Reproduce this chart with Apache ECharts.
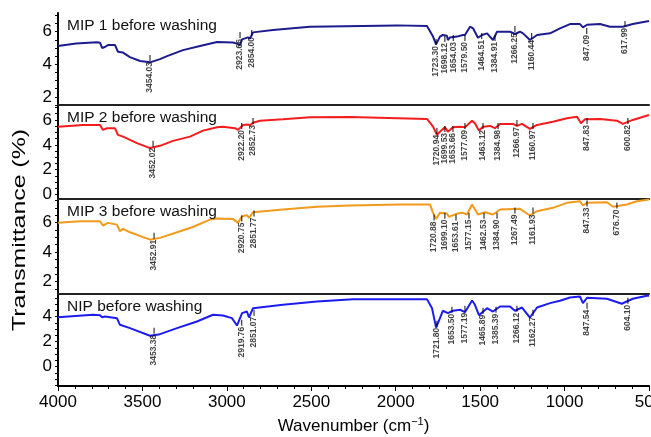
<!DOCTYPE html>
<html><head><meta charset="utf-8">
<script src="https://cdn.jsdelivr.net/npm/echarts@6/dist/echarts.min.js"></script>
<style>html,body{margin:0;padding:0;background:#fff}#c{width:651px;height:437px}</style>
</head><body><div id="c"></div>
<script>
// ---- data (wavenumber cm-1, transmittance %) ----
const panelTitles = ["MIP 1 before washing", "MIP 2 before washing", "MIP 3 before washing", "NIP before washing"];
const seriesColors = ["#1c1c8e", "#f41c1c", "#f29a1c", "#1c1cf0"];

const mip1 = [[4000,5.12],[3893,5.27],[3769,5.35],[3751,5.33],[3739,5.0],[3722,5.06],[3704,5.18],[3662,5.18],[3651,5.12],[3645,4.77],[3615,4.72],[3574,4.44],[3514,4.2],[3455,4.12],[3396,4.32],[3354,4.5],[3260,4.87],[3159,5.12],[3058,5.37],[2964,5.34],[2940,5.27],[2922,5.18],[2910,5.53],[2875,5.65],[2863,5.58],[2845,5.96],[2727,6.1],[2508,6.31],[1992,6.39],[1815,6.35],[1779,5.7],[1761,5.22],[1738,5.7],[1721,5.8],[1697,5.76],[1691,5.49],[1679,5.65],[1637,5.7],[1602,5.8],[1590,5.8],[1560,6.31],[1542,6.21],[1513,5.63],[1489,5.8],[1459,5.9],[1442,5.7],[1424,5.49],[1400,6.0],[1323,6.0],[1294,5.86],[1264,6.0],[1246,5.9],[1205,5.49],[1163,5.8],[1086,5.9],[1027,6.21],[968,6.47],[909,6.47],[891,6.27],[867,6.43],[790,6.47],[731,6.31],[655,6.31],[596,6.47],[500,6.66]];
const mip2 = [[4000,5.46],[3852,5.6],[3751,5.6],[3734,5.2],[3710,5.33],[3662,5.33],[3645,4.8],[3615,4.66],[3532,4.14],[3455,3.74],[3396,3.92],[3319,4.32],[3218,4.66],[3141,5.14],[3058,5.42],[3023,5.46],[2952,5.34],[2934,5.2],[2904,5.6],[2875,5.64],[2863,5.56],[2845,5.78],[2804,5.94],[2668,6.06],[2508,6.22],[2271,6.24],[1815,6.08],[1779,5.46],[1756,4.8],[1738,5.06],[1709,5.42],[1691,5.06],[1661,5.42],[1619,5.46],[1590,5.42],[1548,5.94],[1531,5.74],[1507,5.14],[1483,5.46],[1442,5.52],[1412,5.34],[1382,5.68],[1306,5.68],[1282,5.52],[1252,5.68],[1205,5.28],[1163,5.6],[1069,5.86],[986,6.14],[926,6.26],[903,5.74],[879,6.06],[790,6.08],[690,5.94],[655,5.68],[596,6.0],[500,6.4]];
const mip3 = [[4000,5.98],[3870,6.09],[3751,6.09],[3734,5.8],[3704,5.98],[3651,5.86],[3633,5.41],[3615,5.57],[3574,5.34],[3455,4.84],[3396,4.96],[3295,5.34],[3201,5.7],[3100,6.2],[3058,6.27],[2964,6.25],[2934,5.98],[2910,6.43],[2881,6.5],[2869,6.32],[2845,6.7],[2668,6.89],[2466,7.07],[2271,7.16],[1975,7.23],[1797,7.23],[1779,6.66],[1761,6.25],[1738,6.66],[1697,6.61],[1685,6.39],[1637,6.61],[1602,6.66],[1578,6.55],[1548,7.23],[1513,6.55],[1471,6.7],[1424,6.55],[1382,6.89],[1264,6.93],[1205,6.48],[1163,6.77],[1069,7.0],[986,7.34],[909,7.45],[891,7.16],[867,7.34],[749,7.38],[713,7.07],[631,7.23],[572,7.45],[500,7.57]];
const nip = [[4000,3.95],[3793,4.14],[3751,4.1],[3739,3.95],[3722,4.0],[3651,3.87],[3633,3.34],[3574,3.07],[3455,2.46],[3396,2.59],[3295,3.07],[3177,3.6],[3082,4.14],[3023,4.08],[2970,3.87],[2940,3.28],[2910,4.27],[2881,4.4],[2869,3.92],[2845,4.67],[2668,4.94],[2466,5.2],[2253,5.39],[1815,5.39],[1785,4.67],[1761,3.12],[1738,3.87],[1721,4.46],[1691,4.27],[1661,4.46],[1619,4.54],[1590,4.35],[1548,5.28],[1531,4.94],[1507,4.11],[1459,4.67],[1424,4.4],[1382,4.8],[1323,4.8],[1294,4.46],[1252,4.72],[1205,3.92],[1163,4.72],[1086,5.07],[1027,5.26],[968,5.52],[909,5.6],[891,5.07],[867,5.5],[749,5.42],[661,5.02],[596,5.42],[513,5.66],[500,5.66]];

// peak annotations: [label text, position wavenumber, position value]
const peaks1 = [["3454.03",3455,4.39],["2923.66",2922,5.8],["2854.00",2853,5.92],["1723.30",1761,5.37],["1698.12",1709,5.55],["1654.03",1659,5.62],["1579.50",1590,5.62],["1464.51",1491,5.74],["1384.91",1412,5.62],["1266.25",1294,6.17],["1160.44",1195,5.74],["847.09",869,6.05],["617.99",642,6.48]];
const peaks2 = [["3452.02",3437,4.08],["2922.20",2912,5.52],["2852.73",2845,5.92],["1720.94",1756,5.12],["1699.53",1709,5.28],["1653.66",1661,5.28],["1577.09",1590,5.52],["1463.12",1483,5.52],["1384.98",1394,5.52],["1266.97",1282,5.76],["1160.97",1187,5.52],["847.83",867,5.92],["600.82",625,5.92]];
const peaks3 = [["3452.91",3431,5.11],["2920.75",2912,6.27],["2851.77",2839,6.61],["1720.88",1773,6.34],["1699.10",1709,6.47],["1653.61",1643,6.34],["1577.15",1566,6.47],["1462.53",1477,6.47],["1384.90",1400,6.47],["1267.49",1294,6.82],["1161.93",1187,6.82],["847.33",867,7.29],["676.70",690,7.16]];
const peaks4 = [["3453.38",3431,2.86],["2919.76",2912,3.5],["2851.07",2839,4.3],["1721.80",1756,3.42],["1653.50",1667,4.54],["1577.19",1590,4.62],["1465.89",1483,4.46],["1385.39",1406,4.54],["1266.12",1282,4.62],["1162.27",1187,4.3],["847.54",867,4.86],["604.10",625,5.26]];

const xMin = 500, xMax = 4000, xStep = 500;
const yRanges = [[1.5,7.15],[-0.35,7.2],[1.15,7.6],[-1.55,5.8]];
const yTickLabels = [[2,4,6],[0,2,4,6],[2,4,6],[0,2,4]];

// ---- chart ----
const spectra = [mip1, mip2, mip3, nip];
const peaks = [peaks1, peaks2, peaks3, peaks4];
const gridTops = [13, 105, 199, 294];
const gridHeights = [92, 94, 95, 92];
const FONT = "Liberation Sans, Arial, Helvetica, sans-serif";

function minorVals(r) {
  const out = [];
  for (let v = Math.ceil(r[0] * 2) / 2; v <= r[1] + 1e-9; v += 0.5) out.push(+v.toFixed(2));
  return out;
}

const grid = [], xAxis = [], yAxis = [], series = [], graphic = [];
for (let i = 0; i < 4; i++) {
  grid.push({ left: 58, right: 2, top: gridTops[i], height: gridHeights[i], containLabel: false, outerBoundsMode: 'none' });
  const last = i === 3;
  xAxis.push({
    gridIndex: i, type: 'value', min: xMin, max: xMax, interval: xStep, inverse: true,
    axisLine: { show: true, onZero: false, lineStyle: { color: last ? '#000' : '#222', width: 2 } },
    axisTick: { show: last, length: 5, lineStyle: { color: '#000', width: 1 } },
    minorTick: { show: last, splitNumber: 5, length: 3, lineStyle: { color: '#000', width: 1 } },
    axisLabel: { show: last, color: '#000', fontSize: 17, fontFamily: FONT, margin: 8, hideOverlap: false,
      formatter: v => String(v) },
    splitLine: { show: false },
    name: last ? 'Wavenumber (cm{sup|\u22121})' : '',
    nameLocation: 'middle', nameGap: 30,
    nameTextStyle: { color: '#000', fontSize: 17, fontFamily: FONT,
      rich: { sup: { fontSize: 11, fontFamily: FONT, color: '#000', verticalAlign: 'top', padding: [0, 0, 9, 0] } } }
  });
  yAxis.push({
    gridIndex: i, type: 'value', min: yRanges[i][0], max: yRanges[i][1],
    axisLine: { show: true, onZero: false, lineStyle: { color: '#000', width: 2 } },
    axisTick: { show: true, length: 3, customValues: minorVals(yRanges[i]), lineStyle: { color: '#000', width: 1 } },
    axisLabel: { show: true, customValues: yTickLabels[i], color: '#000', fontSize: 17, fontFamily: FONT, margin: 6,
      formatter: v => String(v) },
    splitLine: { show: false }
  });
  series.push({
    type: 'line', xAxisIndex: i, yAxisIndex: i, data: spectra[i], showSymbol: false, symbol: 'none',
    lineStyle: { color: seriesColors[i], width: 2 }, animation: false, z: 3
  });
  series.push({
    type: 'scatter', xAxisIndex: i, yAxisIndex: i,
    data: peaks[i].map(p => ({ name: p[0], value: [p[1], p[2]] })),
    symbol: 'rect', symbolSize: [1.2, 6], itemStyle: { color: '#000' }, animation: false, z: 4,
    label: { show: true, formatter: '{b}', position: 'bottom', distance: 1, rotate: 90,
      align: 'right', verticalAlign: 'middle', color: '#111', fontSize: 8.5, fontWeight: 'bold', fontFamily: FONT }
  });
  graphic.push({
    type: 'text', x: 67, y: gridTops[i] + 5, z: 10,
    style: { text: panelTitles[i], font: '15.5px ' + FONT, fill: '#111', verticalAlign: 'top' }
  });
}
graphic.push({
  type: 'text', x: 20, y: 230, rotation: Math.PI / 2, scaleX: 1.38, z: 10,
  style: { text: 'Transmittance (%)', font: '18px ' + FONT, fill: '#000', align: 'center', verticalAlign: 'middle' }
});

const chart = echarts.init(document.getElementById('c'), null, { renderer: 'canvas' });
chart.setOption({ animation: false, backgroundColor: '#fff', grid, xAxis, yAxis, series, graphic });
</script>
</body></html>
